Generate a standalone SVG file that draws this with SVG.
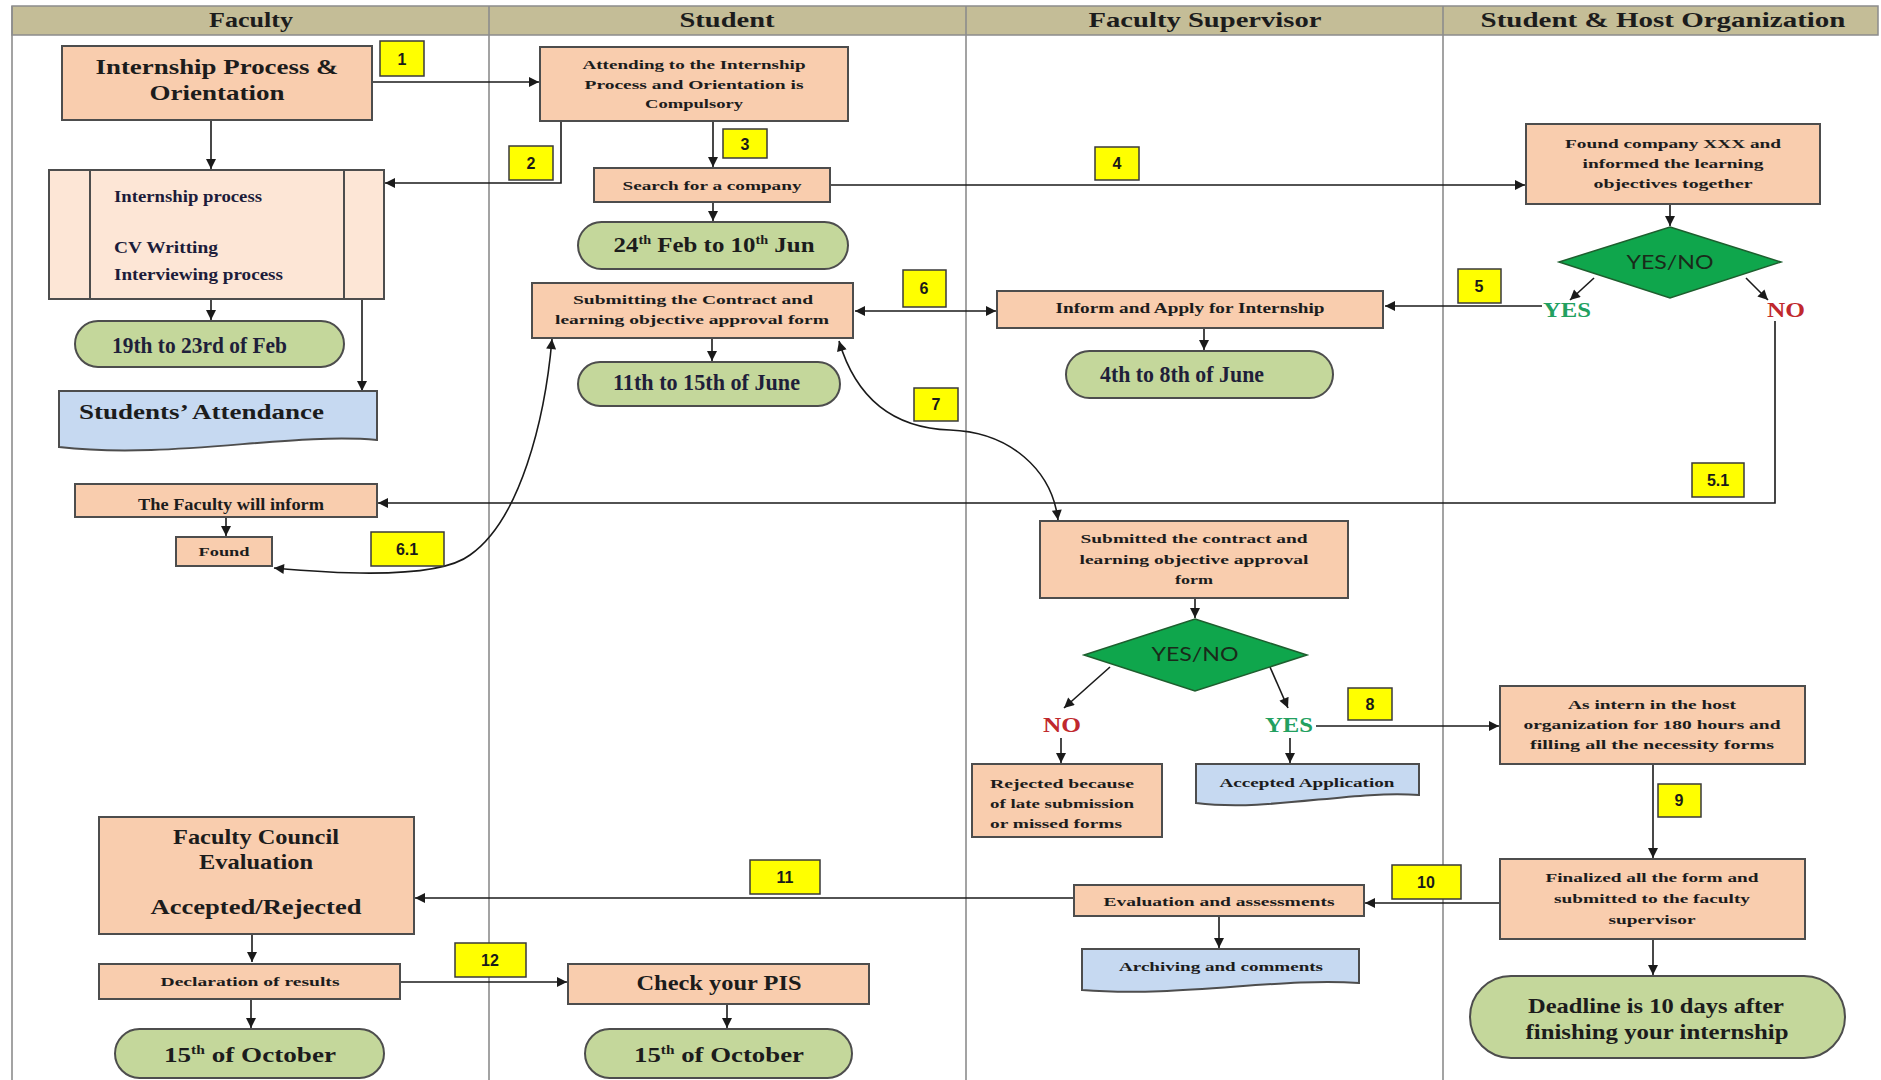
<svg xmlns="http://www.w3.org/2000/svg" width="1881" height="1080" viewBox="0 0 1881 1080">
<defs>
<marker id="ah" viewBox="0 0 10 10" refX="10" refY="5" markerWidth="11" markerHeight="10" markerUnits="userSpaceOnUse" orient="auto-start-reverse"><path d="M0,0 L10,5 L0,10 z" fill="#1a1a1a"/></marker>
</defs>
<style>
.lane{stroke:#8c8c8c;stroke-width:1.6;fill:none}
.box{fill:#f9cdae;stroke:#4d4d4d;stroke-width:2}
.proc{fill:#fde6d6;stroke:#4d4d4d;stroke-width:2}
.oval{fill:#c4d79b;stroke:#4d4d4d;stroke-width:2}
.doc{fill:#c6d9f1;stroke:#4d4d4d;stroke-width:2}
.dia{fill:#0fa64c;stroke:#1e5e2e;stroke-width:1.5}
.tag{fill:#ffff00;stroke:#3a3a3a;stroke-width:1.5}
.e{stroke:#1a1a1a;stroke-width:1.6;fill:none;marker-end:url(#ah)}
.e2{stroke:#1a1a1a;stroke-width:1.6;fill:none;marker-end:url(#ah);marker-start:url(#ah)}
.t{font-family:"Liberation Serif",serif;font-weight:bold;fill:#1c1c1c;text-anchor:middle}
.s{font-size:13px}
.m{font-size:21px}
.d{font-family:"Liberation Serif",serif;font-weight:bold;font-size:23px;fill:#1f1f3a}
.h{font-family:"Liberation Serif",serif;font-weight:bold;font-size:21px;fill:#1c1c1c;text-anchor:middle}
.n{font-family:"Liberation Sans",sans-serif;font-weight:bold;font-size:16px;fill:#1a1a1a;text-anchor:middle}
.yn{font-family:Lato,"Liberation Sans",sans-serif;font-size:20px;fill:#1a2a1a;text-anchor:middle}
.yes{font-family:"Liberation Serif",serif;font-weight:bold;font-size:20px;fill:#22a060;text-anchor:middle}
.no{font-family:"Liberation Serif",serif;font-weight:bold;font-size:20px;fill:#c0282d;text-anchor:middle}
</style>
<rect width="1881" height="1080" fill="#ffffff"/>
<g id="lanes">
<rect x="12" y="6" width="1866" height="29" fill="#c4bd97" stroke="#8c8c8c" stroke-width="1.5"/>
<line class="lane" x1="12" y1="6" x2="12" y2="1080"/>
<line class="lane" x1="489" y1="6" x2="489" y2="1080"/>
<line class="lane" x1="966" y1="6" x2="966" y2="1080"/>
<line class="lane" x1="1443" y1="6" x2="1443" y2="1080"/>
<text class="h" x="251" y="27" textLength="84" lengthAdjust="spacingAndGlyphs">Faculty</text>
<text class="h" x="727" y="27" textLength="95" lengthAdjust="spacingAndGlyphs">Student</text>
<text class="h" x="1205" y="27" textLength="233" lengthAdjust="spacingAndGlyphs">Faculty Supervisor</text>
<text class="h" x="1663" y="27" textLength="365" lengthAdjust="spacingAndGlyphs">Student &amp; Host Organization</text>
</g>
<g id="connectors">
<path class="e" d="M372,82 H539"/>
<path class="e" d="M211,120 V169"/>
<path class="e" d="M561,121 V183 H385"/>
<path class="e" d="M713,121 V167"/>
<path class="e" d="M211,299 V320"/>
<path class="e" d="M362,299 V391"/>
<path class="e" d="M830,185 H1525"/>
<path class="e" d="M713,202 V221"/>
<path class="e" d="M712,338 V361"/>
<path class="e2" d="M855,311 H996"/>
<path class="e" d="M1204,328 V350"/>
<path class="e" d="M1670,204 V226"/>
<path class="e" d="M1594,278 L1570,300"/>
<path class="e" d="M1746,278 L1768,300"/>
<path class="e" d="M1542,306 H1385"/>
<path class="e" d="M1775,321 V503 H378"/>
<path class="e" d="M226,517 V536"/>
<path class="e2" d="M552,339 C545,420 520,520 470,555 C440,578 350,575 274,568"/>
<path class="e2" d="M839,341 C855,395 890,428 950,430 C1010,432 1052,470 1058,520"/>
<path class="e" d="M1195,598 V618"/>
<path class="e" d="M1110,667 L1064,708"/>
<path class="e" d="M1270,667 L1288,708"/>
<path class="e" d="M1061,738 V763"/>
<path class="e" d="M1290,738 V763"/>
<path class="e" d="M1316,726 H1499"/>
<path class="e" d="M1653,764 V858"/>
<path class="e" d="M1499,903 H1365"/>
<path class="e" d="M1653,939 V975"/>
<path class="e" d="M1219,916 V948"/>
<path class="e" d="M1073,898 H415"/>
<path class="e" d="M252,934 V962"/>
<path class="e" d="M251,999 V1028"/>
<path class="e" d="M400,982 H567"/>
<path class="e" d="M727,1004 V1028"/>
</g>
<g id="tags">
<g id="tag1"><rect class="tag" x="380" y="41" width="44" height="35"/><text class="n" x="402" y="65">1</text></g>
<g id="tag2"><rect class="tag" x="509" y="146" width="44" height="34"/><text class="n" x="531" y="169">2</text></g>
<g id="tag3"><rect class="tag" x="723" y="129" width="44" height="29"/><text class="n" x="745" y="150">3</text></g>
<g id="tag4"><rect class="tag" x="1095" y="147" width="44" height="33"/><text class="n" x="1117" y="169">4</text></g>
<g id="tag5"><rect class="tag" x="1458" y="269" width="43" height="34"/><text class="n" x="1479" y="292">5</text></g>
<g id="tag51"><rect class="tag" x="1692" y="463" width="52" height="34"/><text class="n" x="1718" y="486">5.1</text></g>
<g id="tag6"><rect class="tag" x="903" y="270" width="43" height="37"/><text class="n" x="924" y="294">6</text></g>
<g id="tag61"><rect class="tag" x="371" y="532" width="73" height="34"/><text class="n" x="407" y="555">6.1</text></g>
<g id="tag7"><rect class="tag" x="914" y="388" width="44" height="33"/><text class="n" x="936" y="410">7</text></g>
<g id="tag8"><rect class="tag" x="1348" y="688" width="44" height="32"/><text class="n" x="1370" y="710">8</text></g>
<g id="tag9"><rect class="tag" x="1658" y="784" width="43" height="33"/><text class="n" x="1679" y="806">9</text></g>
<g id="tag10"><rect class="tag" x="1392" y="865" width="69" height="34"/><text class="n" x="1426" y="888">10</text></g>
<g id="tag11"><rect class="tag" x="750" y="860" width="70" height="34"/><text class="n" x="785" y="883">11</text></g>
<g id="tag12"><rect class="tag" x="455" y="943" width="71" height="34"/><text class="n" x="490" y="966">12</text></g>
</g>
<g id="n-orientation"><rect class="box" x="62" y="46" width="310" height="74"/>
<text class="t m" x="217" y="74" textLength="243" lengthAdjust="spacingAndGlyphs">Internship Process &amp;</text>
<text class="t m" x="217" y="100" textLength="135" lengthAdjust="spacingAndGlyphs">Orientation</text></g>
<g id="n-attending"><rect class="box" x="540" y="47" width="308" height="74"/>
<text class="t s" x="694" y="69" textLength="223" lengthAdjust="spacingAndGlyphs">Attending to the Internship</text>
<text class="t s" x="694" y="89" textLength="219" lengthAdjust="spacingAndGlyphs">Process and Orientation is</text>
<text class="t s" x="694" y="108" textLength="98" lengthAdjust="spacingAndGlyphs">Compulsory</text></g>
<g id="n-process"><rect class="proc" x="49" y="170" width="335" height="129"/>
<line x1="90" y1="170" x2="90" y2="299" stroke="#4d4d4d" stroke-width="2"/>
<line x1="344" y1="170" x2="344" y2="299" stroke="#4d4d4d" stroke-width="2"/>
<text class="t" style="font-size:17px;text-anchor:start;fill:#1c1c3a" x="114" y="202" textLength="148" lengthAdjust="spacingAndGlyphs">Internship process</text>
<text class="t" style="font-size:17px;text-anchor:start;fill:#1c1c3a" x="114" y="253" textLength="104" lengthAdjust="spacingAndGlyphs">CV Writting</text>
<text class="t" style="font-size:17px;text-anchor:start;fill:#1c1c3a" x="114" y="280" textLength="169" lengthAdjust="spacingAndGlyphs">Interviewing process</text></g>
<g id="n-feb"><rect class="oval" x="75" y="321" width="269" height="46" rx="23"/>
<text class="d" x="112" y="353" textLength="175" lengthAdjust="spacingAndGlyphs">19th to 23rd of Feb</text></g>
<g id="n-attendance"><path class="doc" d="M59,391 H377 V440 C290,432 170,460 59,447 Z"/>
<text class="t" style="font-size:20px;text-anchor:start" x="79" y="419" textLength="245" lengthAdjust="spacingAndGlyphs">Students’ Attendance</text></g>
<g id="n-inform-fac"><rect class="box" x="75" y="484" width="302" height="33"/>
<text class="t" style="font-size:17px" x="231" y="510" textLength="186" lengthAdjust="spacingAndGlyphs">The Faculty will inform</text></g>
<g id="n-found"><rect class="box" x="176" y="537" width="96" height="29"/>
<text class="t s" x="224" y="556" textLength="51" lengthAdjust="spacingAndGlyphs">Found</text></g>
<g id="n-search"><rect class="box" x="594" y="168" width="236" height="34"/>
<text class="t s" x="712" y="190" textLength="179" lengthAdjust="spacingAndGlyphs">Search for a company</text></g>
<g id="n-jun10"><rect class="oval" x="578" y="222" width="270" height="47" rx="23.5"/>
<text class="t" style="font-size:21px" x="714" y="252" textLength="201" lengthAdjust="spacingAndGlyphs">24<tspan style="font-size:12px" dy="-8">th</tspan><tspan dy="8"> Feb to 10</tspan><tspan style="font-size:12px" dy="-8">th</tspan><tspan dy="8"> Jun</tspan></text></g>
<g id="n-submitting"><rect class="box" x="532" y="283" width="321" height="55"/>
<text class="t s" x="693" y="304" textLength="240" lengthAdjust="spacingAndGlyphs">Submitting the Contract and</text>
<text class="t s" x="692" y="324" textLength="274" lengthAdjust="spacingAndGlyphs">learning objective approval form</text></g>
<g id="n-june15"><rect class="oval" x="578" y="362" width="262" height="44" rx="22"/>
<text class="d" x="613" y="390" textLength="187" lengthAdjust="spacingAndGlyphs">11th to 15th of June</text></g>
<g id="n-inform"><rect class="box" x="997" y="291" width="386" height="37"/>
<text class="t" style="font-size:14px" x="1190" y="313" textLength="269" lengthAdjust="spacingAndGlyphs">Inform and Apply for Internship</text></g>
<g id="n-june8"><rect class="oval" x="1066" y="351" width="267" height="47" rx="23.5"/>
<text class="d" x="1100" y="382" textLength="164" lengthAdjust="spacingAndGlyphs">4th to 8th of June</text></g>
<g id="n-foundco"><rect class="box" x="1526" y="124" width="294" height="80"/>
<text class="t s" x="1673" y="148" textLength="216" lengthAdjust="spacingAndGlyphs">Found company XXX and</text>
<text class="t s" x="1673" y="168" textLength="181" lengthAdjust="spacingAndGlyphs">informed the learning</text>
<text class="t s" x="1673" y="188" textLength="159" lengthAdjust="spacingAndGlyphs">objectives together</text></g>
<g id="n-dec1"><polygon class="dia" points="1670,227 1781,262 1670,298 1559,262"/>
<text class="yn" x="1670" y="269" textLength="87" lengthAdjust="spacingAndGlyphs">YES/NO</text>
<text class="yes" x="1567" y="317" textLength="48" lengthAdjust="spacingAndGlyphs">YES</text>
<text class="no" x="1786" y="317" textLength="38" lengthAdjust="spacingAndGlyphs">NO</text></g>
<g id="n-submitted"><rect class="box" x="1040" y="521" width="308" height="77"/>
<text class="t s" x="1194" y="543" textLength="227" lengthAdjust="spacingAndGlyphs">Submitted the contract and</text>
<text class="t s" x="1194" y="564" textLength="229" lengthAdjust="spacingAndGlyphs">learning objective approval</text>
<text class="t s" x="1194" y="584" textLength="38" lengthAdjust="spacingAndGlyphs">form</text></g>
<g id="n-dec2"><polygon class="dia" points="1195,619 1307,655 1195,691 1084,655"/>
<text class="yn" x="1195" y="661" textLength="87" lengthAdjust="spacingAndGlyphs">YES/NO</text>
<text class="no" x="1062" y="732" textLength="38" lengthAdjust="spacingAndGlyphs">NO</text>
<text class="yes" x="1289" y="732" textLength="48" lengthAdjust="spacingAndGlyphs">YES</text></g>
<g id="n-rejected"><rect class="box" x="972" y="764" width="190" height="73"/>
<text class="t s" style="text-anchor:start" x="990" y="788" textLength="144" lengthAdjust="spacingAndGlyphs">Rejected because</text>
<text class="t s" style="text-anchor:start" x="990" y="808" textLength="144" lengthAdjust="spacingAndGlyphs">of late submission</text>
<text class="t s" style="text-anchor:start" x="990" y="828" textLength="132" lengthAdjust="spacingAndGlyphs">or missed forms</text></g>
<g id="n-accepted"><path class="doc" d="M1196,764 H1419 V795 C1350,790 1270,812 1196,803 Z"/>
<text class="t s" x="1307" y="787" textLength="175" lengthAdjust="spacingAndGlyphs">Accepted Application</text></g>
<g id="n-intern"><rect class="box" x="1500" y="686" width="305" height="78"/>
<text class="t s" x="1652" y="709" textLength="168" lengthAdjust="spacingAndGlyphs">As intern in the host</text>
<text class="t s" x="1652" y="729" textLength="257" lengthAdjust="spacingAndGlyphs">organization for 180 hours and</text>
<text class="t s" x="1652" y="749" textLength="244" lengthAdjust="spacingAndGlyphs">filling all the necessity forms</text></g>
<g id="n-finalized"><rect class="box" x="1500" y="859" width="305" height="80"/>
<text class="t s" x="1652" y="882" textLength="213" lengthAdjust="spacingAndGlyphs">Finalized all the form and</text>
<text class="t s" x="1652" y="903" textLength="196" lengthAdjust="spacingAndGlyphs">submitted to the faculty</text>
<text class="t s" x="1652" y="924" textLength="87" lengthAdjust="spacingAndGlyphs">supervisor</text></g>
<g id="n-deadline"><rect class="oval" x="1470" y="976" width="375" height="82" rx="41"/>
<text class="t m" x="1656" y="1013" textLength="256" lengthAdjust="spacingAndGlyphs">Deadline is 10 days after</text>
<text class="t m" x="1657" y="1039" textLength="263" lengthAdjust="spacingAndGlyphs">finishing your internship</text></g>
<g id="n-evaluation"><rect class="box" x="1074" y="885" width="290" height="31"/>
<text class="t s" x="1219" y="906" textLength="231" lengthAdjust="spacingAndGlyphs">Evaluation and assessments</text></g>
<g id="n-archiving"><path class="doc" d="M1082,949 H1359 V983 C1280,977 1180,998 1082,990 Z"/>
<text class="t s" x="1221" y="971" textLength="204" lengthAdjust="spacingAndGlyphs">Archiving and comments</text></g>
<g id="n-council"><rect class="box" x="99" y="817" width="315" height="117"/>
<text class="t m" x="256" y="844" textLength="166" lengthAdjust="spacingAndGlyphs">Faculty Council</text>
<text class="t m" x="256" y="869" textLength="114" lengthAdjust="spacingAndGlyphs">Evaluation</text>
<text class="t m" x="256" y="914" textLength="211" lengthAdjust="spacingAndGlyphs">Accepted/Rejected</text></g>
<g id="n-declaration"><rect class="box" x="99" y="964" width="301" height="35"/>
<text class="t s" x="250" y="986" textLength="179" lengthAdjust="spacingAndGlyphs">Declaration of results</text></g>
<g id="n-oct1"><rect class="oval" x="115" y="1029" width="269" height="49" rx="24.5"/>
<text class="t m" x="250" y="1062" textLength="172" lengthAdjust="spacingAndGlyphs">15<tspan style="font-size:12px" dy="-8">th</tspan><tspan dy="8"> of October</tspan></text></g>
<g id="n-pis"><rect class="box" x="568" y="964" width="301" height="40"/>
<text class="t" style="font-size:20px" x="719" y="990" textLength="165" lengthAdjust="spacingAndGlyphs">Check your PIS</text></g>
<g id="n-oct2"><rect class="oval" x="585" y="1029" width="267" height="49" rx="24.5"/>
<text class="t m" x="719" y="1062" textLength="170" lengthAdjust="spacingAndGlyphs">15<tspan style="font-size:12px" dy="-8">th</tspan><tspan dy="8"> of October</tspan></text></g>
</svg>
